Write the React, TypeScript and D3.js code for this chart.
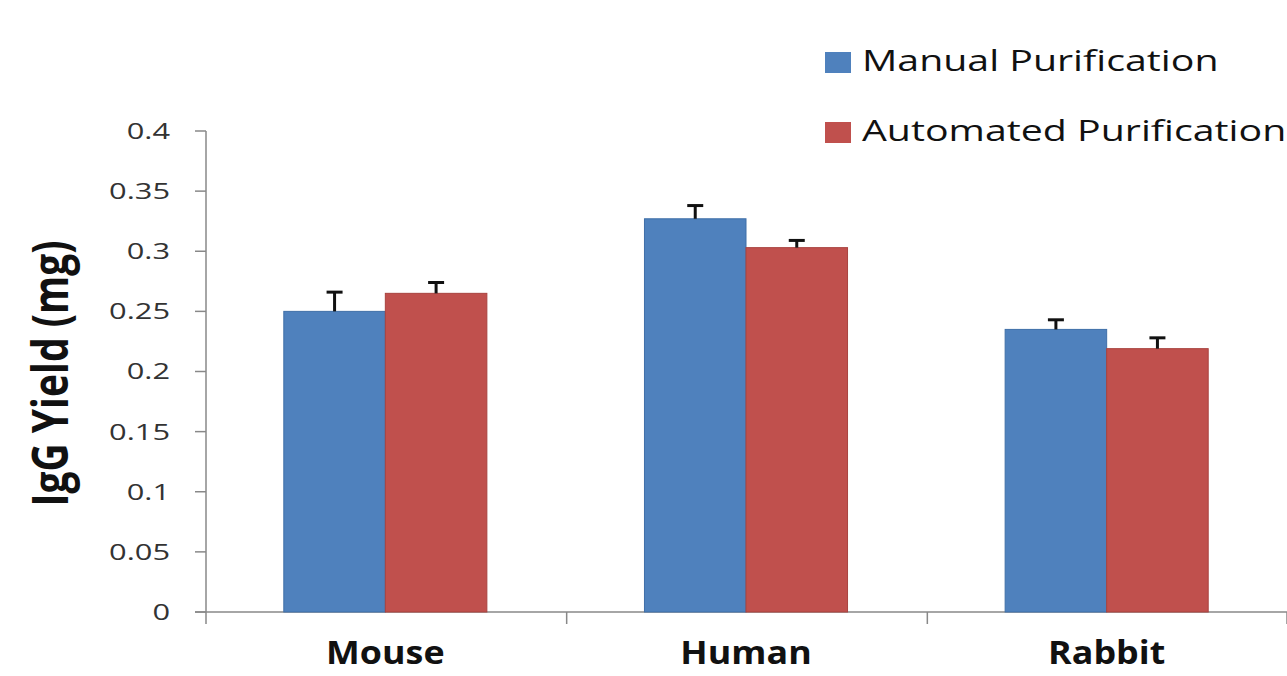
import { useEffect, useRef } from "react";
import * as d3 from "d3";

const categories = ["Mouse", "Human", "Rabbit"];
const seriesNames = ["Manual Purification", "Automated Purification"];
const manualValues = [0.25, 0.327, 0.235];
const manualErrors = [0.016, 0.011, 0.008];
const automatedValues = [0.265, 0.303, 0.219];
const automatedErrors = [0.009, 0.006, 0.009];
const yTicks = [0, 0.05, 0.1, 0.15, 0.2, 0.25, 0.3, 0.35, 0.4];
const colors = ["#4f81bd", "#c0504d"];
const borders = ["#3f6fa8", "#a9423f"];

const W = 1287;
const H = 676;

export default function App() {
  const svgRef = useRef<SVGSVGElement>(null);

  useEffect(() => {
    if (!svgRef.current) return;
    const svg = d3.select(svgRef.current);
    svg.selectAll("*").remove();

    const left = 205;
    const right = 1287;
    const top = 131;
    const bottom = 612;

    const y = d3.scaleLinear().domain([0, 0.4]).range([bottom, top]);
    const x = d3.scaleBand().domain(categories).range([left, right]).padding(0);
    const bw = x.bandwidth();
    const groupW = bw * 0.563;
    const sub = d3
      .scaleBand()
      .domain(seriesNames)
      .range([(bw - groupW) / 2, (bw + groupW) / 2])
      .padding(0);

    // the source image is stretched sideways, so text gets a horizontal scale
    const font = "'Open Sans', 'Noto Sans', sans-serif";

    // y axis
    svg.append("line")
      .attr("x1", left + 1).attr("x2", left + 1)
      .attr("y1", top).attr("y2", bottom)
      .attr("stroke", "#888").attr("stroke-width", 1.5);

    svg.selectAll(".ytick")
      .data(yTicks)
      .join("line")
      .attr("x1", left - 10).attr("x2", left + 1)
      .attr("y1", (d) => y(d)).attr("y2", (d) => y(d))
      .attr("stroke", "#888").attr("stroke-width", 1.5);

    svg.selectAll(".ylabel")
      .data(yTicks)
      .join("text")
      .attr("transform", (d) => `translate(170, ${y(d)}) scale(1.4, 1)`)
      .attr("dy", "0.36em")
      .attr("text-anchor", "end")
      .attr("font-family", font)
      .attr("font-size", 22)
      .attr("fill", "#333")
      .text((d) => (d === 0 ? "0" : String(d)));

    // x axis
    svg.append("line")
      .attr("x1", left - 10).attr("x2", right)
      .attr("y1", bottom).attr("y2", bottom)
      .attr("stroke", "#888").attr("stroke-width", 1.5);

    const xTickPos = categories.map((c) => x(c)!).concat([right - 1]);
    svg.selectAll(".xtick")
      .data(xTickPos)
      .join("line")
      .attr("x1", (d) => d + 1).attr("x2", (d) => d + 1)
      .attr("y1", bottom).attr("y2", bottom + 12)
      .attr("stroke", "#888").attr("stroke-width", 1.5);

    // bars
    const data = categories.flatMap((c, i) => [
      { cat: c, s: seriesNames[0], v: manualValues[i], e: manualErrors[i], k: 0 },
      { cat: c, s: seriesNames[1], v: automatedValues[i], e: automatedErrors[i], k: 1 },
    ]);

    svg.selectAll(".bar")
      .data(data)
      .join("rect")
      .attr("x", (d) => x(d.cat)! + sub(d.s)!)
      .attr("y", (d) => y(d.v))
      .attr("width", sub.bandwidth())
      .attr("height", (d) => bottom - y(d.v))
      .attr("fill", (d) => colors[d.k])
      .attr("stroke", (d) => borders[d.k])
      .attr("stroke-width", 1);

    // error bars (upper only)
    const cx = (d: any) => x(d.cat)! + sub(d.s)! + sub.bandwidth() / 2;
    svg.selectAll(".err")
      .data(data)
      .join("line")
      .attr("x1", cx).attr("x2", cx)
      .attr("y1", (d) => y(d.v)).attr("y2", (d) => y(d.v + d.e))
      .attr("stroke", "#111").attr("stroke-width", 3);
    svg.selectAll(".cap")
      .data(data)
      .join("line")
      .attr("x1", (d) => cx(d) - 8).attr("x2", (d) => cx(d) + 8)
      .attr("y1", (d) => y(d.v + d.e)).attr("y2", (d) => y(d.v + d.e))
      .attr("stroke", "#111").attr("stroke-width", 3);

    // category labels
    svg.selectAll(".cat")
      .data(categories)
      .join("text")
      .attr("transform", (d) => `translate(${x(d)! + bw / 2}, 664) scale(1.12, 1)`)
      .attr("text-anchor", "middle")
      .attr("font-family", font)
      .attr("font-weight", "bold")
      .attr("font-size", 32)
      .attr("fill", "#111")
      .text((d) => d);

    // y title
    svg.append("text")
      .attr("transform", `translate(68, ${(top + bottom) / 2 + 2}) scale(1.3, 1) rotate(-90)`)
      .attr("text-anchor", "middle")
      .attr("font-family", font)
      .attr("font-weight", "bold")
      .attr("font-size", 39)
      .attr("fill", "#111")
      .text("IgG Yield (mg)");

    // legend
    const legend = svg.selectAll(".leg")
      .data(seriesNames)
      .join("g")
      .attr("transform", (_d, i) => `translate(825, ${52 + i * 70})`);
    legend.append("rect")
      .attr("width", 26).attr("height", 21)
      .attr("fill", (_d, i) => colors[i]);
    legend.append("text")
      .attr("transform", "translate(37, 19) scale(1.31, 1)")
      .attr("font-family", font)
      .attr("font-size", 30)
      .attr("fill", "#111")
      .text((d) => d);
  }, []);

  return (
    <div style={{ position: "absolute", left: 0, top: 0 }}>
      <svg ref={svgRef} width={W} height={H} style={{ display: "block", background: "#fff" }} />
    </div>
  );
}
